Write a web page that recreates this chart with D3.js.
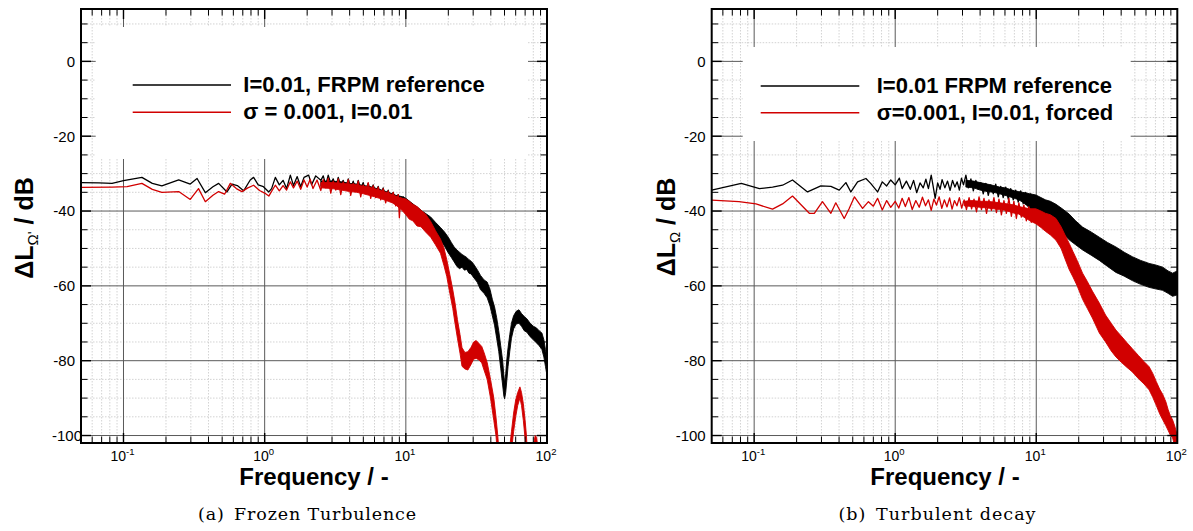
<!DOCTYPE html>
<html>
<head>
<meta charset="utf-8">
<script src="https://cdn.jsdelivr.net/npm/d3@7"></script>
<style>
  html, body { margin: 0; padding: 0; background: #fff; }
  svg { display: block; }
</style>
</head>
<body>
<svg id="fig" width="1193" height="531"></svg>
<script>
// ---------- axes ----------
const freqDomain = [0.05, 100];
const levelDomain = [-102, 14];
const freqTicks = [0.1, 1, 10, 100];
const freqTickExponents = ["-1", "0", "1", "2"];
const levelTicks = [0, -20, -40, -60, -80, -100];

// ---------- (a) frozen turbulence ----------
// sampled spectrum: [frequency, level in dB]
const frozenRefLow = [
  [0.05,-32.4],[0.067,-32.5],[0.083,-32.6],[0.1,-31.9],[0.135,-31.0],[0.16,-32.6],[0.187,-33.3],
  [0.246,-31.7],[0.297,-32.8],[0.332,-31.3],[0.38,-35.1],[0.43,-33.5],[0.472,-32.6],[0.541,-34.9],
  [0.587,-32.8],[0.64,-33.2],[0.71,-34.6],[0.79,-31.7],[0.835,-31.0],[0.9,-33.0],[0.98,-33.5],
  [1.07,-34.9],[1.12,-34.0],[1.19,-31.0],[1.27,-33.0],[1.35,-31.8],[1.43,-34.0],[1.52,-30.4],
  [1.6,-33.2],[1.7,-30.8],[1.8,-33.5],[1.9,-31.0],[2.05,-30.4],[2.15,-33.0],[2.3,-30.6],
  [2.5,-31.8],[2.6,-30.6],[2.71,-33.0],[2.82,-30.4],[2.94,-32.6],[3.06,-31.4],[3.19,-33.6],
  [3.32,-31.0],[3.46,-33.2],[3.6,-31.8],[3.75,-34.0],[3.91,-31.4],[4.07,-33.8],[4.24,-32.0],
  [4.42,-34.4],[4.6,-31.8],[4.79,-34.0],[4.99,-32.4],[5.2,-34.8],[5.41,-32.6],[5.64,-35.0],
  [5.87,-33.0],[6.12,-35.4],[6.37,-33.4],[6.64,-36.0],[6.91,-33.8],[7.2,-36.4],[7.5,-34.4],
  [7.81,-37.0],[8.14,-35.0],[8.48,-37.6],[8.83,-35.6],[9.2,-38.4],[9.58,-36.2],[10,-38.4]
];
// dense part, drawn as a filled band: [frequency, lower level, upper level]
const frozenRefBand = [
  [2.5,-33.4,-32.0],[3.0,-33.6,-32.0],[3.5,-34.0,-32.2],[4.0,-34.4,-32.6],[4.5,-34.6,-32.8],
  [5.0,-35.0,-33.2],[5.5,-35.4,-33.4],[6.0,-35.8,-33.8],[6.5,-36.2,-34.2],[7.0,-36.6,-34.6],
  [7.5,-37.0,-35.0],[8.0,-37.6,-35.4],[8.5,-38.2,-35.8],[9.0,-38.8,-36.0],[9.5,-39.6,-36.2],
  [10,-40.5,-36.6],[10.8,-41.4,-37.6],[11.5,-42.0,-38.4],[12.3,-42.6,-39.2],[13.0,-43.2,-40.0],
  [14.0,-44.2,-40.8],[15.0,-45.2,-41.6],[16.2,-46.6,-43.0],[17.6,-47.8,-44.4],[18.8,-49.4,-45.6],
  [20.0,-51.2,-47.0],[21.0,-52.4,-48.4],[22.0,-53.6,-49.6],[23.0,-54.8,-50.4],[24.0,-55.4,-51.0],
  [25.0,-55.0,-51.6],[26.0,-55.8,-52.0],[27.0,-55.6,-52.4],[28.0,-56.6,-53.0],[29.0,-56.8,-53.4],
  [30.0,-57.6,-54.0],[32.0,-59.0,-55.6],[33.8,-61.0,-57.2],[35.8,-62.0,-58.4],[37.7,-63.2,-59.0],
  [39.5,-65.4,-61.0],[41.0,-68.0,-63.6],[42.5,-70.5,-65.6],[44.0,-74.0,-68.5],[45.5,-77.5,-72.0],
  [47.0,-82.0,-76.0],[48.5,-86.5,-80.0],[49.5,-89.5,-84.0],[50.1,-90.2,-86.0],[51.0,-88.5,-83.5],
  [52.0,-85.0,-79.5],[53.0,-81.5,-76.5],[54.5,-77.5,-73.0],[56.0,-74.0,-70.0],[58.0,-71.5,-68.0],
  [60.5,-70.2,-66.8],[63.3,-70.0,-66.4],[66.0,-70.8,-67.4],[69.0,-72.0,-68.2],[72.0,-72.4,-68.8],
  [76.0,-73.6,-70.0],[80.0,-74.4,-70.8],[84.0,-75.2,-71.2],[88.0,-76.0,-72.0],[92.0,-77.0,-72.6],
  [95.0,-79.0,-74.4],[97.5,-81.5,-77.0],[100,-84.0,-79.5]
];
const frozenSigmaLow = [
  [0.05,-33.7],[0.083,-33.6],[0.106,-33.5],[0.135,-32.6],[0.16,-34.2],[0.187,-35.0],[0.246,-34.8],
  [0.297,-36.9],[0.34,-34.0],[0.38,-37.5],[0.43,-35.8],[0.472,-34.8],[0.52,-35.5],[0.571,-32.6],
  [0.63,-34.0],[0.69,-34.8],[0.76,-33.8],[0.835,-33.1],[0.92,-34.5],[1.0,-35.2],[1.07,-36.0],
  [1.13,-34.5],[1.19,-33.1],[1.27,-34.6],[1.35,-33.2],[1.43,-34.4],[1.52,-32.2],[1.6,-33.8],
  [1.7,-32.0],[1.8,-34.2],[1.9,-31.7],[2.0,-33.6],[2.1,-31.5],[2.2,-34.0],[2.35,-31.7],
  [2.5,-34.5],[2.6,-31.6],[2.71,-33.8],[2.82,-31.2],[2.94,-35.2],[3.06,-32.0],[3.19,-34.4],
  [3.32,-31.4],[3.46,-35.6],[3.6,-32.2],[3.75,-34.0],[3.91,-31.6],[4.07,-35.8],[4.24,-32.6],
  [4.42,-34.8],[4.6,-32.0],[4.79,-36.2],[4.99,-33.0],[5.2,-35.0],[5.41,-32.4],[5.64,-36.6],
  [5.87,-33.2],[6.12,-36.4],[6.37,-33.6],[6.64,-37.0],[6.91,-34.0],[7.2,-37.8],[7.5,-34.6],
  [7.81,-37.2],[8.14,-35.0],[8.48,-38.6],[8.83,-35.6],[9.0,-41.8],[9.2,-36.4],[9.58,-39.2],[10,-37.2]
];
const frozenSigmaBand = [
  [2.5,-33.8,-32.4],[3.0,-34.0,-32.4],[3.5,-34.4,-32.6],[4.0,-34.8,-32.8],[4.5,-35.0,-33.0],
  [5.0,-35.4,-33.4],[5.5,-35.8,-33.6],[6.0,-36.2,-34.0],[6.5,-36.6,-34.4],[7.0,-37.0,-34.8],
  [7.5,-37.4,-35.2],[8.0,-37.8,-35.6],[8.5,-38.4,-36.0],[9.0,-39.2,-36.4],[9.5,-40.0,-36.6],
  [10,-41.0,-36.8],[10.6,-42.2,-37.4],[11.2,-42.6,-38.2],
  [12.0,-44.0,-38.8],[12.8,-44.2,-39.8],[13.8,-45.6,-40.8],[15.0,-47.0,-42.8],[16.2,-49.0,-45.2],
  [17.6,-51.3,-47.5],[18.6,-54.5,-49.8],[19.5,-57.5,-53.0],[20.5,-62.0,-57.0],[21.5,-66.0,-61.0],
  [22.3,-70.0,-64.5],[23.2,-74.0,-69.0],[24.2,-78.0,-73.0],[25.0,-81.5,-76.5],[26.2,-82.2,-77.8],
  [27.5,-82.5,-77.6],[29.0,-81.0,-76.4],[30.2,-79.6,-75.0],[31.5,-79.4,-74.6],[33.0,-79.8,-75.4],
  [34.5,-80.6,-76.2],[35.8,-82.5,-77.8],[37.7,-85.0,-80.5],[39.8,-90.0,-85.0],[42.0,-96.0,-90.0],
  [43.5,-100.0,-95.0],[44.8,-106,-100],[46.5,-114,-108],[52.0,-114,-108],[54.5,-108,-103],
  [56.0,-104,-99],[58.0,-99,-94],[60.0,-95,-90.5],[62.0,-92,-88.5],[64.3,-90,-87],[66.0,-92,-88.5],
  [68.0,-96,-91.5],[70.0,-101,-96],[71.5,-106,-100],[73.5,-114,-108],[78.0,-114,-108],
  [80.5,-106,-102],[82.5,-103,-100],[84.5,-104,-100.5],[86.5,-110,-104],[90,-116,-110],[100,-116,-110]
];

// ---------- (b) turbulent decay ----------
const decayRefLow = [
  [0.05,-34.4],[0.081,-32.6],[0.109,-34.0],[0.135,-33.6],[0.159,-33.1],[0.187,-31.7],[0.239,-34.9],
  [0.297,-33.3],[0.35,-33.4],[0.401,-34.4],[0.447,-32.4],[0.485,-34.9],[0.541,-32.2],[0.62,-31.3],
  [0.67,-32.6],[0.75,-34.9],[0.81,-32.2],[0.87,-33.3],[0.93,-31.7],[1.0,-33.0],[1.07,-31.2],
  [1.12,-34.0],[1.2,-32.0],[1.28,-34.2],[1.35,-31.8],[1.42,-35.1],[1.5,-32.5],[1.58,-33.8],
  [1.65,-31.5],[1.72,-34.0],[1.8,-30.4],[1.86,-33.5],[1.92,-36.6],[2.0,-32.5],[2.08,-34.2],
  [2.15,-31.6],[2.25,-33.8],[2.35,-32.0],[2.45,-34.5],[2.55,-31.8],[2.65,-33.6],[2.75,-32.2],
  [2.85,-34.4],[2.95,-31.2],[3.05,-33.0],[3.17,-30.4],[3.3,-33.8],[3.44,-31.4],[3.58,-34.6],
  [3.73,-31.8],[3.88,-34.2],[4.04,-32.4],[4.21,-35.4],[4.39,-32.6],[4.57,-35.8],[4.76,-33.0],
  [4.96,-35.4],[5.16,-32.8],[5.38,-36.2],[5.6,-33.4],[5.83,-36.4],[6.08,-33.6],[6.33,-36.8],
  [6.59,-34.0],[6.87,-37.0],[7.15,-34.4],[7.45,-37.6],[7.76,-34.6],[8.08,-38.0],[8.42,-35.0],
  [8.77,-38.6],[9.13,-35.4],[9.51,-39.4],[9.93,-36.0]
];
const decayRefBand = [
  [3.17,-33.6,-31.8],[3.6,-33.8,-32.0],[4.0,-34.4,-32.4],[4.5,-34.8,-32.8],[5.0,-35.0,-33.2],
  [5.5,-35.4,-33.6],[6.0,-35.8,-33.8],[6.5,-36.2,-34.2],[7.0,-36.6,-34.6],[7.5,-37.0,-34.8],
  [8.0,-37.6,-35.0],[8.5,-38.4,-35.2],[9.0,-39.2,-35.4],[9.93,-40.4,-35.7],
  [10.8,-41.6,-36.4],[11.6,-42.4,-37.0],[12.6,-43.2,-37.4],[13.8,-44.2,-38.2],[15.3,-45.8,-39.4],
  [17.1,-47.7,-40.8],[19.0,-49.0,-42.6],[21.3,-50.4,-44.3],[24.5,-51.8,-45.6],[28.0,-53.2,-47.0],
  [32.0,-54.8,-48.4],[36.7,-56.4,-49.6],[42.0,-57.4,-51.0],[48.0,-58.6,-52.2],[55.0,-59.6,-53.2],
  [63.1,-60.4,-54.0],[70.0,-60.8,-54.4],[78.8,-61.2,-55.0],[86.0,-62.0,-56.0],[92.6,-62.8,-56.6],
  [100,-62.4,-56.0]
];
const decaySigmaLow = [
  [0.05,-37.1],[0.078,-37.5],[0.103,-38.1],[0.135,-39.5],[0.159,-38.1],[0.187,-36.0],[0.246,-40.6],
  [0.267,-40.6],[0.305,-37.5],[0.35,-40.6],[0.379,-37.8],[0.435,-42.0],[0.472,-39.3],[0.514,-36.2],
  [0.587,-39.3],[0.646,-37.5],[0.7,-38.7],[0.75,-36.6],[0.81,-39.7],[0.87,-37.2],[0.93,-39.0],
  [1.0,-37.4],[1.06,-39.2],[1.12,-36.6],[1.18,-38.8],[1.25,-36.4],[1.32,-39.6],[1.4,-37.2],
  [1.48,-39.0],[1.56,-36.3],[1.64,-38.6],[1.72,-37.0],[1.8,-39.8],[1.88,-36.8],[1.96,-38.4],
  [2.05,-36.2],[2.14,-39.3],[2.23,-37.0],[2.33,-38.9],[2.43,-36.5],[2.53,-39.5],[2.63,-37.2],
  [2.74,-38.6],[2.85,-36.4],[2.96,-39.2],[3.08,-37.0],[3.2,-39.6],[3.34,-36.4],[3.48,-39.4],
  [3.62,-36.8],[3.77,-40.2],[3.93,-36.2],[4.09,-39.6],[4.26,-36.6],[4.44,-40.6],[4.62,-37.0],
  [4.81,-39.8],[5.01,-36.4],[5.22,-40.4],[5.44,-36.8],[5.66,-41.0],[5.9,-37.2],[6.14,-40.6],
  [6.4,-36.6],[6.66,-41.4],[6.94,-37.4],[7.23,-42.0],[7.53,-37.8],[7.84,-41.6],[8.17,-38.4],
  [8.5,-42.6],[8.86,-38.8],[9.22,-43.0],[9.6,-39.6],[9.93,-42.0]
];
const decaySigmaBand = [
  [3.08,-38.6,-37.4],[3.5,-38.8,-37.2],[4.0,-39.0,-37.4],[4.5,-39.2,-37.4],[5.0,-39.4,-37.6],
  [5.5,-39.6,-37.8],[6.0,-39.8,-38.0],[6.5,-40.2,-38.2],[7.0,-40.6,-38.4],[7.5,-40.8,-38.8],
  [8.0,-41.4,-39.0],[8.5,-42.0,-39.2],[9.0,-42.6,-39.4],[9.93,-43.4,-39.4],[10.8,-44.4,-40.0],
  [11.6,-45.4,-40.6],[12.6,-46.4,-41.0],[13.8,-47.8,-42.0],[15.0,-50.0,-44.2],[16.0,-52.8,-46.4],
  [17.1,-55.6,-48.6],[18.2,-57.6,-50.8],[19.5,-60.0,-53.2],[21.3,-63.6,-56.6],[23.0,-66.0,-58.8],
  [25.0,-68.6,-61.4],[28.0,-72.6,-64.6],[31.0,-75.0,-67.8],[34.0,-77.4,-70.0],[36.7,-79.0,-71.8],
  [40.0,-80.4,-73.4],[44.0,-81.8,-75.2],[48.0,-83.0,-76.8],[53.0,-84.8,-78.6],[58.0,-86.2,-80.2],
  [63.1,-87.8,-81.6],[67.0,-89.8,-83.4],[71.0,-92.0,-85.6],[75.0,-94.2,-87.6],[78.8,-95.8,-89.0],
  [83.0,-97.4,-91.0],[86.0,-98.6,-93.0],[89.0,-99.8,-94.6],[92.6,-100.6,-95.8],[96.0,-103,-97.5],
  [100,-105,-100]
];

const legendA = ["I=0.01, FRPM reference", "\u03C3 = 0.001, I=0.01"];
const legendB = ["I=0.01 FRPM reference", "\u03C3=0.001, I=0.01, forced"];
const captions = ["(a)\u2002Frozen Turbulence", "(b)\u2002Turbulent decay"];

const REF_COLOR = "#000000";
const SIGMA_COLOR = "#d10000";

// ---------- layout ----------
const panels = [
  {
    id: "a", left: 81, right: 547, top: 9, bottom: 443,
    box: { x0: 95.7, x1: 528, y0: 27, y1: 159 },
    legend: { x1: 132.7, x2: 231, tx: 243.3, rows: [85, 112.3] },
    legendText: legendA, subscript: "\u03A9'",
    yTitle: { x: 33, y: 228 }, xTitleX: 314, caption: captions[0], captionX: 307, captionLen: 218,
    bottomLabelDx: 7,
    series: [
      { low: frozenRefLow, band: frozenRefBand, color: REF_COLOR },
      { low: frozenSigmaLow, band: frozenSigmaBand, color: SIGMA_COLOR }
    ]
  },
  {
    id: "b", left: 711.7, right: 1177.3, top: 9, bottom: 443,
    box: { x0: 742.7, x1: 1130.7, y0: 47, y1: 141 },
    legend: { x1: 760.7, x2: 859.3, tx: 876.7, rows: [86, 112.7] },
    legendText: legendB, subscript: "\u03A9",
    yTitle: { x: 675, y: 227 }, xTitleX: 945, caption: captions[1], captionX: 937, captionLen: 197,
    bottomLabelDx: 0,
    series: [
      { low: decayRefLow, band: decayRefBand, color: REF_COLOR },
      { low: decaySigmaLow, band: decaySigmaBand, color: SIGMA_COLOR }
    ]
  }
];

const SANS = "'Liberation Sans', Arial, Helvetica, sans-serif";
const SERIF = "'DejaVu Serif', 'Liberation Serif', serif";
const svg = d3.select("#fig");

panels.forEach(p => {
  const g = svg.append("g").attr("class", "panel-" + p.id);
  const x = d3.scaleLog().domain(freqDomain).range([p.left, p.right]);
  const y = d3.scaleLinear().domain(levelDomain).range([p.bottom, p.top]);

  g.append("clipPath").attr("id", "clip-" + p.id)
    .append("rect")
    .attr("x", p.left).attr("y", p.top)
    .attr("width", p.right - p.left).attr("height", p.bottom - p.top);

  // minor grid positions: 2..9 per decade, every 5 dB
  const minorFreq = [];
  for (let e = -2; e <= 1; e++) {
    for (let k = 2; k <= 9; k++) {
      const f = k * Math.pow(10, e);
      if (f > 0.0501 && f < 99.9) minorFreq.push(f);
    }
  }
  const minorLevel = d3.range(-100, 15, 5).filter(v => Math.abs(v % 20) > 0.1 && v > levelDomain[0] && v < levelDomain[1]);

  const grid = g.append("g").attr("clip-path", `url(#clip-${p.id})`);
  grid.selectAll("line.mfx").data(minorFreq).join("line")
    .attr("x1", d => x(d)).attr("x2", d => x(d))
    .attr("y1", p.top).attr("y2", p.bottom)
    .attr("stroke", "#c8c8c8").attr("stroke-width", 0.8).attr("stroke-dasharray", "1.5,1.5");
  grid.selectAll("line.mly").data(minorLevel).join("line")
    .attr("x1", p.left).attr("x2", p.right)
    .attr("y1", d => y(d)).attr("y2", d => y(d))
    .attr("stroke", "#c8c8c8").attr("stroke-width", 0.8).attr("stroke-dasharray", "1.5,1.5");
  grid.selectAll("line.Mfx").data(freqTicks.slice(0, 3)).join("line")
    .attr("x1", d => x(d)).attr("x2", d => x(d))
    .attr("y1", p.top).attr("y2", p.bottom)
    .attr("stroke", "#5a5a5a").attr("stroke-width", 1);
  grid.selectAll("line.Mly").data(levelTicks).join("line")
    .attr("x1", p.left).attr("x2", p.right)
    .attr("y1", d => y(d)).attr("y2", d => y(d))
    .attr("stroke", "#5a5a5a").attr("stroke-width", 1);

  // legend background hides the grid
  g.append("rect")
    .attr("x", p.box.x0).attr("y", p.box.y0)
    .attr("width", p.box.x1 - p.box.x0).attr("height", p.box.y1 - p.box.y0)
    .attr("fill", "#fff");

  // spectra: filled band for the densely sampled range, sampled line on top
  const line = d3.line().x(d => x(d[0])).y(d => y(d[1]));
  const area = d3.area().x(d => x(d[0])).y0(d => y(d[1])).y1(d => y(d[2]));
  const data = g.append("g").attr("clip-path", `url(#clip-${p.id})`);
  p.series.forEach(s => {
    data.append("path").datum(s.band)
      .attr("d", area).attr("fill", s.color)
      .attr("stroke", s.color).attr("stroke-width", 0.9).attr("stroke-linejoin", "round");
    data.append("path").datum(s.low)
      .attr("d", line).attr("fill", "none")
      .attr("stroke", s.color).attr("stroke-width", 1.3).attr("stroke-linejoin", "round");
  });

  // ticks on all four sides
  const ticks = g.append("g").attr("stroke", "#000").attr("stroke-width", 1.4);
  const majorLen = 10, minorLen = 6.5;
  freqTicks.slice(0, 3).forEach(f => {
    ticks.append("line").attr("x1", x(f)).attr("x2", x(f)).attr("y1", p.bottom).attr("y2", p.bottom - majorLen);
    ticks.append("line").attr("x1", x(f)).attr("x2", x(f)).attr("y1", p.top).attr("y2", p.top + majorLen);
  });
  minorFreq.forEach(f => {
    ticks.append("line").attr("x1", x(f)).attr("x2", x(f)).attr("y1", p.bottom).attr("y2", p.bottom - minorLen).attr("stroke-width", 1);
    ticks.append("line").attr("x1", x(f)).attr("x2", x(f)).attr("y1", p.top).attr("y2", p.top + minorLen).attr("stroke-width", 1);
  });
  levelTicks.forEach(v => {
    ticks.append("line").attr("x1", p.left).attr("x2", p.left + majorLen).attr("y1", y(v)).attr("y2", y(v));
    ticks.append("line").attr("x1", p.right).attr("x2", p.right - majorLen).attr("y1", y(v)).attr("y2", y(v));
  });
  minorLevel.forEach(v => {
    ticks.append("line").attr("x1", p.left).attr("x2", p.left + minorLen).attr("y1", y(v)).attr("y2", y(v)).attr("stroke-width", 1);
    ticks.append("line").attr("x1", p.right).attr("x2", p.right - minorLen).attr("y1", y(v)).attr("y2", y(v)).attr("stroke-width", 1);
  });

  // frame
  g.append("rect")
    .attr("x", p.left).attr("y", p.top)
    .attr("width", p.right - p.left).attr("height", p.bottom - p.top)
    .attr("fill", "none").attr("stroke", "#000").attr("stroke-width", 2);

  // tick labels
  g.selectAll("text.ylab").data(levelTicks).join("text")
    .attr("x", (d, i) => p.left - 6 + (i === levelTicks.length - 1 ? p.bottomLabelDx : 0))
    .attr("y", d => y(d))
    .attr("dy", "0.36em")
    .attr("text-anchor", "end")
    .attr("font-family", SANS).attr("font-size", 15).attr("fill", "#000")
    .text(d => d);

  const xl = g.selectAll("text.xlab").data(freqTicks).join("text")
    .attr("x", d => x(d) - 1)
    .attr("y", p.bottom + 17.5)
    .attr("text-anchor", "middle")
    .attr("font-family", SANS).attr("font-size", 14).attr("fill", "#000");
  xl.append("tspan").text("10");
  xl.append("tspan").attr("dy", -6).attr("font-size", 9.5).text((d, i) => freqTickExponents[i]);

  // axis titles
  g.append("text")
    .attr("x", p.xTitleX).attr("y", 485)
    .attr("text-anchor", "middle")
    .attr("font-family", SANS).attr("font-weight", "bold").attr("font-size", 24)
    .text("Frequency / -");

  const yt = g.append("text")
    .attr("transform", `translate(${p.yTitle.x},${p.yTitle.y}) rotate(-90)`)
    .attr("text-anchor", "middle")
    .attr("font-family", SANS).attr("font-weight", "bold").attr("font-size", 25);
  yt.append("tspan").text("\u0394L");
  yt.append("tspan").attr("dy", 5).attr("font-size", 15).attr("font-weight", "normal").text(p.subscript);
  yt.append("tspan").attr("dy", -5).text(" / dB");

  // legend
  p.series.forEach((s, i) => {
    g.append("line")
      .attr("x1", p.legend.x1).attr("x2", p.legend.x2)
      .attr("y1", p.legend.rows[i]).attr("y2", p.legend.rows[i])
      .attr("stroke", s.color).attr("stroke-width", 1.6);
    g.append("text")
      .attr("x", p.legend.tx).attr("y", p.legend.rows[i] + 7)
      .attr("font-family", SANS).attr("font-weight", "bold").attr("font-size", 22)
      .attr("fill", "#000")
      .text(p.legendText[i]);
  });

  // caption
  g.append("text")
    .attr("x", p.captionX).attr("y", 520)
    .attr("text-anchor", "middle")
    .attr("font-family", SERIF).attr("font-size", 17.5)
    .attr("textLength", p.captionLen).attr("lengthAdjust", "spacing")
    .text(p.caption);
});
</script>
</body>
</html>
